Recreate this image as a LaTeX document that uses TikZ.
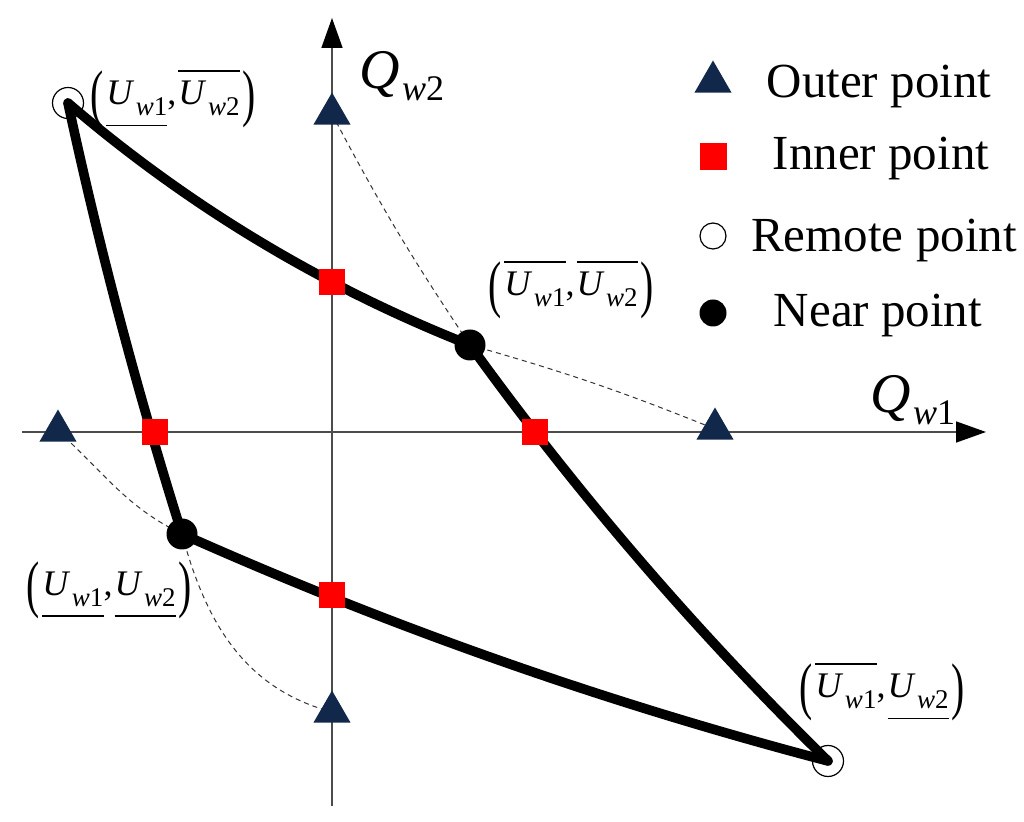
\documentclass[tikz,border=0pt]{standalone}
\usepackage{fontspec}
\setmainfont{Liberation Serif}
\usepackage{graphicx}
\usetikzlibrary{arrows.meta,shapes.geometric,calc}
\definecolor{navy}{HTML}{12284A}
\newcommand\Uu[1]{\textit{U}\kern0.8pt\raisebox{-5.5pt}{\fontsize{13.5}{15}\selectfont\textit{w}#1}}
\newcommand\Ov[1]{\vbox{\hrule height 0.7pt\kern4.5pt\hbox{#1}}}
\newcommand\Un[1]{\vtop{\hbox{#1}\kern4.5pt\hrule height 0.7pt}}
\newcommand\LP{\raisebox{-5pt}{\scalebox{1.1}[1.75]{(}}\kern1.5pt}
\newcommand\RP{\kern1.5pt\raisebox{-5pt}{\scalebox{1.1}[1.75]{)}}}
\newcommand\ptlabel[2]{{\fontsize{18}{20}\selectfont\LP#1,\kern1pt#2\RP}}
\newcommand\Qax[1]{{\fontsize{28}{30}\selectfont\textit{Q}\kern1pt\raisebox{-6pt}{\fontsize{18}{20}\selectfont\textit{w}#1}}}
\begin{document}
\begin{tikzpicture}[x=0.5pt,y=0.5pt,
  axis/.style={draw=black!70, line width=0.8pt, -{Triangle[length=15pt,width=10.5pt,color=black]}},
  bound/.style={line width=4.8pt, line cap=round, line join=round},
  dcurve/.style={line width=0.5pt, dash pattern=on 2.5pt off 2pt, black!80},
  outerpt/.style={regular polygon, regular polygon sides=3, fill=navy, inner sep=0pt, minimum size=21.5pt},
  innerpt/.style={rectangle, fill=red, inner sep=0pt, minimum size=13pt},
  nearpt/.style={circle, fill=black, inner sep=0pt, minimum size=15.5pt},
  remotept/.style={circle, draw=black, line width=0.6pt, inner sep=0pt, minimum size=15.5pt},
  legtext/.style={anchor=base, font=\fontsize{24.5}{28}\selectfont, inner sep=0pt},
  lbl/.style={inner sep=0pt}
]
\useasboundingbox (0,0) rectangle (1024,-822);
% key points
\coordinate (RA) at (68,-103);
\coordinate (NB) at (470,-345);
\coordinate (RC) at (828,-761);
\coordinate (ND) at (182,-534);
\coordinate (I1) at (332,-282);
\coordinate (I2) at (535,-432);
\coordinate (I3) at (332,-595);
\coordinate (I4) at (155,-432);
\coordinate (OT) at (332,-114);
\coordinate (OR) at (715,-429);
\coordinate (OL) at (58,-431);
\coordinate (OB) at (332,-712);
% quadratic control points of the boundary sides
\coordinate (cAB) at (249,-258);
\coordinate (cBC) at (631,-568);
\coordinate (cCD) at (496,-674);
\coordinate (cDA) at (115,-321);
% axes
\coordinate (xs) at (22,-432);
\coordinate (xe) at (986,-432);
\coordinate (ys) at (332,-806);
\coordinate (ye) at (332,-18);
\draw[axis] (xs) -- (xe);
\draw[axis] (ys) -- (ye);
\node[lbl] (qw1) at (913,-400) {\Qax{1}};
\node[lbl] (qw2) at (402,-76) {\Qax{2}};
% dashed curves
\draw[dcurve] (OT) to[bend right=3] (NB);
\draw[dcurve] (NB) to[bend left=3] (OR);
\draw[dcurve] (OL) to[out=-42,in=154] (ND);
\draw[dcurve] (ND) to[out=-75,in=165] (OB);
% boundary
\draw[bound] (RA) .. controls ($(RA)!0.6667!(cAB)$) and ($(NB)!0.6667!(cAB)$) .. (NB);
\draw[bound] (NB) .. controls ($(NB)!0.6667!(cBC)$) and ($(RC)!0.6667!(cBC)$) .. (RC);
\draw[bound] (RC) .. controls ($(RC)!0.6667!(cCD)$) and ($(ND)!0.6667!(cCD)$) .. (ND);
\draw[bound] (ND) .. controls ($(ND)!0.6667!(cDA)$) and ($(RA)!0.6667!(cDA)$) .. (RA);
% markers
\node[outerpt] (mOT) at (OT) {};
\node[outerpt] (mOR) at (OR) {};
\node[outerpt] (mOL) at (OL) {};
\node[outerpt] (mOB) at (OB) {};
\node[innerpt] (mI1) at (I1) {};
\node[innerpt] (mI2) at (I2) {};
\node[innerpt] (mI3) at (I3) {};
\node[innerpt] (mI4) at (I4) {};
\node[nearpt] (mNB) at (NB) {};
\node[nearpt] (mND) at (ND) {};
\node[remotept] (mRA) at (RA) {};
\node[remotept] (mRC) at (RC) {};
% point labels
\node[lbl] (lA) at (173,-99) {\ptlabel{\Un{\Uu{1}}}{\Ov{\Uu{2}}}};
\node[lbl] (lB) at (571,-290) {\ptlabel{\Ov{\Uu{1}}}{\Ov{\Uu{2}}}};
\node[lbl] (lD) at (109,-590) {\ptlabel{\Un{\Uu{1}}}{\Un{\Uu{2}}}};
\node[lbl] (lC) at (882,-692) {\ptlabel{\Ov{\Uu{1}}}{\Un{\Uu{2}}}};
% legend
\node[outerpt] (gO) at (713,-82) {};
\node[innerpt, minimum size=13.5pt] (gI) at (713,-157) {};
\node[circle, draw=black, line width=0.6pt, inner sep=0pt, minimum size=13pt] (gR) at (713,-236) {};
\node[circle, fill=black, inner sep=0pt, minimum size=13.5pt] (gN) at (713,-313) {};
\node[legtext] (tO) at (879,-98) {Outer point};
\node[legtext] (tI) at (881,-170) {Inner point};
\node[legtext] (tR) at (884,-252) {Remote point};
\node[legtext] (tN) at (878,-327) {Near point};
\end{tikzpicture}
\end{document}
